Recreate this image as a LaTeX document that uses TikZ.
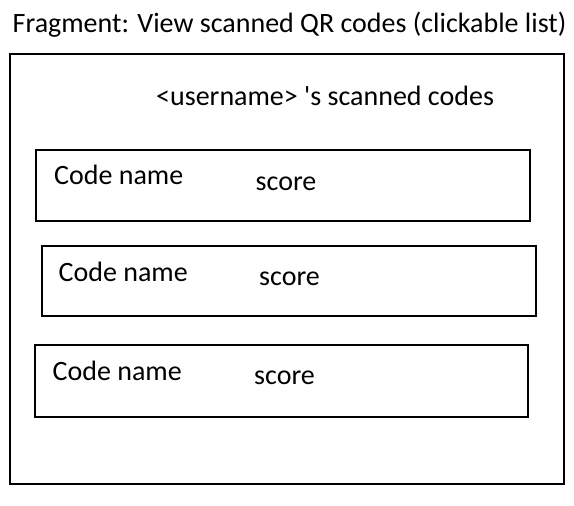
\documentclass[tikz,border=0pt]{standalone}
\usepackage{fontspec}
\setmainfont{Carlito}
\usetikzlibrary{positioning}

\tikzset{
  frame/.style={draw=black, line width=2pt},
  label text/.style={anchor=base west, inner sep=0pt, font=\fontsize{28}{34}\selectfont}
}

\begin{document}
\begin{tikzpicture}[x=1pt, y=-1pt]
    \useasboundingbox (0,0) rectangle (574,506);

    % title and outer fragment frame
    \node [label text] (title) at (12.5,32) {Fragment: View scanned QR codes (clickable list)};
    \draw [frame] (9.5,53.5) rectangle (563.5,483.5);
    \node [label text] (user) at (156,105) {<username> \textquotesingle s scanned codes};

    % list items
    \draw [frame] (36,150) rectangle (530,220.5);
    \node [label text] (name1) at (54,184.5) {Code name};
    \node [label text] (score1) at (255.5,190.5) {score};

    \draw [frame] (42,245.5) rectangle (535.5,315.5);
    \node [label text] (name2) at (58.5,281.5) {Code name};
    \node [label text] (score2) at (259,285.5) {score};

    \draw [frame] (34.5,345) rectangle (527.5,416.5);
    \node [label text] (name3) at (52.5,380) {Code name};
    \node [label text] (score3) at (254,384.5) {score};
\end{tikzpicture}
\end{document}
